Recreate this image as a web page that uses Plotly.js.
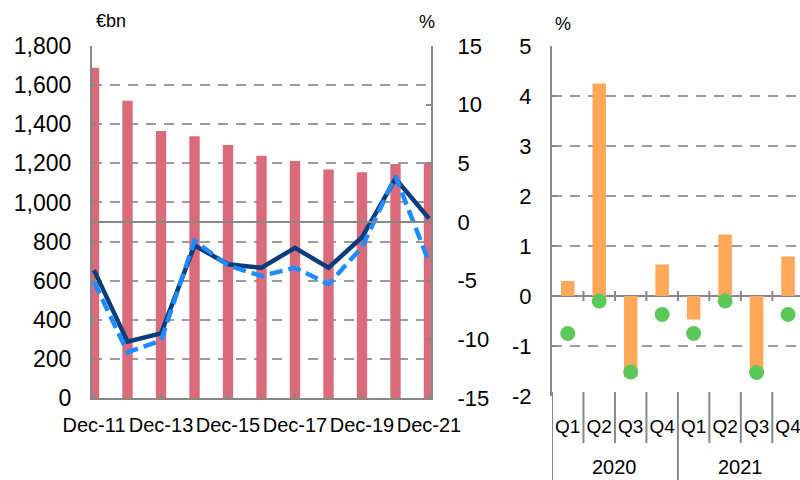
<!DOCTYPE html>
<html>
<head>
<meta charset="utf-8">
<script src="https://cdn.plot.ly/plotly-3.0.1.min.js"></script>
<style>html,body{margin:0;padding:0;background:#fff;}#chart{width:800px;height:480px;}</style>
</head>
<body>
<div id="chart"></div>
<script>
// ---- Left panel data ----
const xCats = ['Dec-11','Dec-12','Dec-13','Dec-14','Dec-15','Dec-16','Dec-17','Dec-18','Dec-19','Dec-20','Dec-21'];
const xTickLabels = ['Dec-11','Dec-13','Dec-15','Dec-17','Dec-19','Dec-21'];
const stockBn = [1689, 1520, 1365, 1338, 1294, 1239, 1212, 1168, 1154, 1197, 1197];
const growthSolid = [-4.1, -10.2, -9.5, -2.0, -3.6, -3.9, -2.2, -3.9, -1.3, 3.7, 0.3];
const growthDashed = [-5.1, -11.1, -10.1, -1.6, -3.7, -4.6, -3.9, -5.3, -2.15, 3.9, -3.4];
const pctTicks = [-15, -10, -5, 0, 5, 10, 15];
const pctTickLabels = ['-15', '-10', '-5', '0', '5', '10', '15'];

// ---- Right panel data ----
const years = ['2020','2020','2020','2020','2021','2021','2021','2021'];
const quarters = ['Q1','Q2','Q3','Q4','Q1','Q2','Q3','Q4'];
const yearLabels = ['2020','2021'];
const qBars = [0.3, 4.25, -1.62, 0.63, -0.47, 1.23, -1.57, 0.79];
const qDots = [-0.75, -0.1, -1.52, -0.37, -0.75, -0.1, -1.53, -0.37];
const qTicks = [-2, -1, 0, 1, 2, 3, 4, 5];
const qTickLabels = ['-2', '-1', '0', '1', '2', '3', '4', '5'];

const qCats = years.map((y, i) => y + ' ' + quarters[i]);

const FONT = 'Liberation Sans, Arial, sans-serif';
const AXC = '#888888';
const GRIDC = '#9C9C9C';

const traces = [
  { type: 'bar', x: xCats, y: stockBn, xaxis: 'x', yaxis: 'y', width: 0.31,
    marker: { color: '#D96B7A', line: { width: 0 } } },
  { type: 'scatter', mode: 'lines', x: xCats, y: growthSolid, xaxis: 'x', yaxis: 'y3',
    line: { color: '#0A3D7C', width: 4.5 } },
  { type: 'scatter', mode: 'lines', x: xCats, y: growthDashed, xaxis: 'x', yaxis: 'y3',
    line: { color: '#1E8BFF', width: 4.5, dash: '13px,6px' } },
  { type: 'bar', x: qCats, y: qBars, xaxis: 'x2', yaxis: 'y2', width: 0.43,
    marker: { color: '#FFA85A', line: { width: 0 } } },
  { type: 'scatter', mode: 'markers', x: qCats, y: qDots, xaxis: 'x2', yaxis: 'y2',
    marker: { color: '#5CC85A', size: 15 } }
];

// decorative dividers under the quarter axis
const shapes = [];
for (let i = 0; i <= qCats.length; i++) {
  const b = i - 0.5;
  const long = (i % 4 === 0);
  shapes.push({ type: 'line', xref: 'x2', yref: 'paper', x0: b, x1: b,
    y0: (480 - 392) / 480, y1: long ? 0 : (480 - 443) / 480,
    line: { color: AXC, width: 2 } });
  if (i > 0) {
    shapes.push({ type: 'line', xref: 'x2', yref: 'y2', x0: b, x1: b, y0: -0.1, y1: 0.1,
      line: { color: AXC, width: 2 } });
  }
}

const annotations = [
  { text: '€bn', xref: 'paper', yref: 'paper', x: 94 / 800, y: (480 - 21) / 480,
    xanchor: 'left', yanchor: 'middle', showarrow: false, font: { family: FONT, size: 18, color: '#000' } },
  { text: '%', xref: 'paper', yref: 'paper', x: 427 / 800, y: (480 - 22) / 480,
    xanchor: 'center', yanchor: 'middle', showarrow: false, font: { family: FONT, size: 18, color: '#000' } },
  { text: '%', xref: 'paper', yref: 'paper', x: 553 / 800, y: (480 - 24) / 480,
    xanchor: 'left', yanchor: 'middle', showarrow: false, font: { family: FONT, size: 18, color: '#000' } }
];
yearLabels.forEach((y, k) => {
  annotations.push({ text: y, xref: 'x2', yref: 'paper', x: k * 4 + 1.5, y: (480 - 467) / 480,
    xanchor: 'center', yanchor: 'middle', borderpad: 0, showarrow: false,
    font: { family: FONT, size: 20, color: '#000' } });
});

const layout = {
  width: 800, height: 480,
  margin: { l: 0, r: 0, t: 0, b: 0, pad: 0 },
  paper_bgcolor: '#fff', plot_bgcolor: '#fff',
  showlegend: false,
  font: { family: FONT, color: '#000' },
  xaxis: {
    domain: [92 / 800, 431 / 800], anchor: 'y', type: 'category',
    range: [-0.06, 10.06], tickmode: 'array', tickvals: xTickLabels, ticktext: xTickLabels,
    ticks: 'inside', ticklen: 5, tickwidth: 2, tickcolor: AXC,
    showline: true, linecolor: AXC, linewidth: 2, showgrid: false, zeroline: false,
    tickfont: { family: FONT, size: 20, color: '#000' }, ticklabelstandoff: 8, fixedrange: true
  },
  yaxis: {
    domain: [(480 - 398) / 480, (480 - 46) / 480], anchor: 'x',
    range: [0, 1800], dtick: 200, tickformat: ',d',
    showgrid: true, gridcolor: GRIDC, gridwidth: 2, griddash: '10px,8px',
    showline: true, linecolor: AXC, linewidth: 2,
    ticks: 'inside', ticklen: 5, tickwidth: 2, tickcolor: AXC, zeroline: false,
    tickfont: { family: FONT, size: 23, color: '#000' }, ticklabelstandoff: 14, fixedrange: true
  },
  yaxis3: {
    overlaying: 'y', side: 'right', anchor: 'x',
    range: [-15, 15], tickmode: 'array', tickvals: pctTicks, ticktext: pctTickLabels, showgrid: false,
    zeroline: true, zerolinecolor: AXC, zerolinewidth: 2, zerolinelayer: 'above traces',
    showline: true, linecolor: AXC, linewidth: 2,
    ticks: 'inside', ticklen: 5, tickwidth: 2, tickcolor: AXC,
    tickfont: { family: FONT, size: 22, color: '#000' }, ticklabelstandoff: 20, fixedrange: true
  },
  xaxis2: {
    domain: [552 / 800, 1], anchor: 'y2', type: 'category',
    range: [-0.5, 7.38], tickmode: 'array', tickvals: qCats, ticktext: quarters,
    ticks: '', showline: false, showgrid: false, zeroline: false,
    tickfont: { family: FONT, size: 19, color: '#000' }, ticklabelstandoff: 17, fixedrange: true
  },
  yaxis2: {
    domain: [(480 - 396) / 480, (480 - 46) / 480], anchor: 'x2',
    range: [-2, 5], tickmode: 'array', tickvals: qTicks, ticktext: qTickLabels,
    showgrid: true, gridcolor: GRIDC, gridwidth: 2, griddash: '10px,8px',
    zeroline: true, zerolinecolor: AXC, zerolinewidth: 2,
    showline: true, linecolor: AXC, linewidth: 2,
    ticks: 'inside', ticklen: 5, tickwidth: 2, tickcolor: AXC,
    tickfont: { family: FONT, size: 22, color: '#000' }, ticklabelstandoff: 14, fixedrange: true
  },
  shapes: shapes,
  annotations: annotations
};

Plotly.newPlot('chart', traces, layout, { displayModeBar: false, staticPlot: true });
</script>
</body>
</html>
